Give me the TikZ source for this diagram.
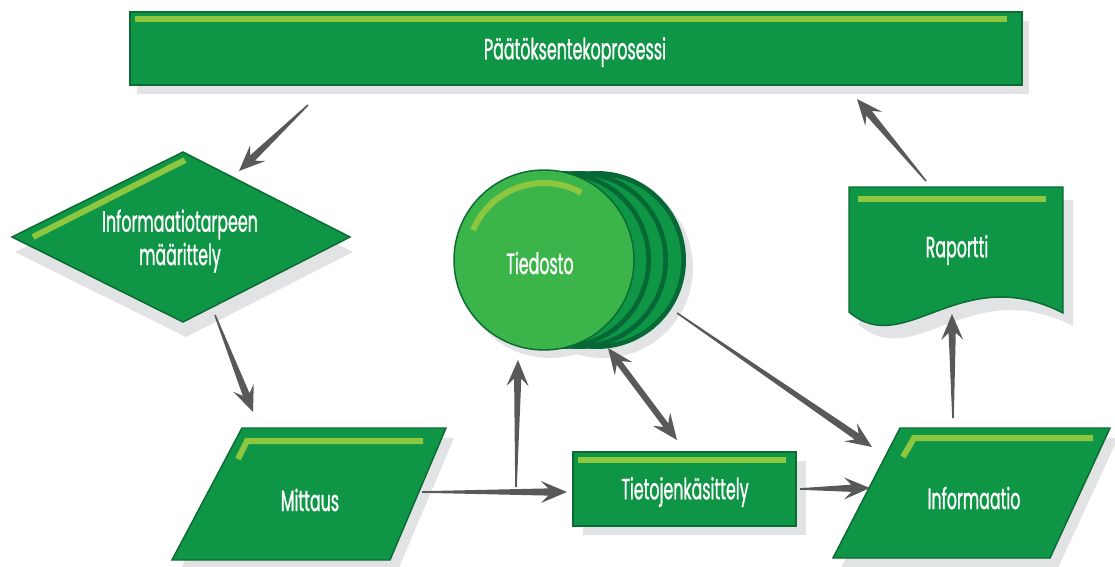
\documentclass[tikz,border=0pt]{standalone}
\usepackage{fontspec}
\newfontfamily\flowfont[FakeStretch=0.54, FakeBold=0.9]{Poppins}
\usetikzlibrary{calc}

\definecolor{boxgreen}{HTML}{0F9546}
\definecolor{edgegreen}{HTML}{0B6B33}
\definecolor{stripegreen}{HTML}{8DC63F}
\definecolor{discgreen}{HTML}{3BB54A}
\definecolor{discedge}{HTML}{056835}
\definecolor{shadowgrey}{HTML}{E2E3E5}
\definecolor{arrowgrey}{HTML}{58595B}

% tapered arrow: thin tail at #1, barbed head at #2
\newcommand\taperarrow[2]{%
  \coordinate (ta-h) at ($(#2)!19.5pt!(#1)$);
  \coordinate (ta-s) at ($(#2)!14pt!(#1)$);
  \fill[arrowgrey] ($(#1)!0.6pt!90:(#2)$) -- ($(ta-s)!2.7pt!90:(#2)$)
    -- ($(ta-h)!8.25pt!90:(#2)$) -- (#2) -- ($(ta-h)!8.25pt!-90:(#2)$)
    -- ($(ta-s)!2.7pt!-90:(#2)$) -- ($(#1)!0.6pt!-90:(#2)$) -- cycle;}

% arrow with heads at both ends
\newcommand\taperdarrow[2]{%
  \coordinate (tb-h1) at ($(#1)!19.5pt!(#2)$);
  \coordinate (tb-s1) at ($(#1)!14pt!(#2)$);
  \coordinate (tb-h2) at ($(#2)!19.5pt!(#1)$);
  \coordinate (tb-s2) at ($(#2)!14pt!(#1)$);
  \fill[arrowgrey] (#1) -- ($(tb-h1)!8.25pt!90:(#2)$) -- ($(tb-s1)!2.3pt!90:(#2)$)
    -- ($(tb-s2)!2.3pt!90:(#2)$) -- ($(tb-h2)!8.25pt!90:(#2)$) -- (#2)
    -- ($(tb-h2)!8.25pt!-90:(#2)$) -- ($(tb-s2)!2.3pt!-90:(#2)$)
    -- ($(tb-s1)!2.3pt!-90:(#2)$) -- ($(tb-h1)!8.25pt!-90:(#2)$) -- cycle;}

\begin{document}
\begin{tikzpicture}[x=0.75pt,y=-0.75pt,
  greenshape/.style={fill=boxgreen, draw=edgegreen, line width=1.1pt, line join=miter},
  shade/.style={fill=shadowgrey},
  stripe/.style={draw=stripegreen, line width=4.5pt},
  txt/.style={text=white, font=\flowfont\fontsize{22}{25}\selectfont, inner sep=0pt, align=center}]
\useasboundingbox (0,0) rectangle (1115,567);

% ---- decision process bar
\fill[shade] (137,21) rectangle (1029,94);
\draw[greenshape] (130,12) rectangle (1022,85);
\draw[stripe] (135,19) -- (1007,19);
\node[txt] (proc) at (575,52) {Päätöksentekoprosessi};

% ---- information need (diamond)
\fill[shade, shift={(3,15)}] (12,237) -- (183,152) -- (350,237) -- (183,322) -- cycle;
\draw[greenshape] (12,237) -- (183,152) -- (350,237) -- (183,322) -- cycle;
\draw[stripe] (33,237) -- (185,160);
\node[txt] (need) at (180,241) {Informaatiotarpeen\\määrittely};

% ---- file (stack of discs)
\fill[shade] (603,268) circle[radius=67.5pt];
\fill[shade] (550,268) circle[radius=67.5pt];
\foreach \cx in {597,579,562}{
  \filldraw[fill=boxgreen, draw=discedge, line width=3.5pt] (\cx,260) circle[radius=65pt];
}
\draw[fill=discgreen, draw=edgegreen, line width=1.1pt] (544,260) circle[radius=67.5pt];
\draw[stripe] (473,230) arc[start angle=157, end angle=61, radius=57.75pt];
\node[txt] (file) at (540,263) {Tiedosto};

% ---- report (document shape)
\fill[shade, shift={(10,13)}] (849,187) -- (1063,187) -- (1063,313)
  .. controls (960,260) and (905,360) .. (849,312) -- cycle;
\draw[greenshape] (849,187) -- (1063,187) -- (1063,313)
  .. controls (960,260) and (905,360) .. (849,312) -- cycle;
\draw[stripe] (858,199) -- (1046,199);
\node[txt] (report) at (957,250) {Raportti};

% ---- measurement (parallelogram)
\fill[shade, shift={(8,10)}] (242,428) -- (446,428) -- (390,560) -- (172,560) -- cycle;
\draw[greenshape] (242,428) -- (446,428) -- (390,560) -- (172,560) -- cycle;
\draw[stripe, line join=miter] (238,459) -- (247,441) -- (423,441);
\node[txt] (meas) at (310,500) {Mittaus};

% ---- data processing (rectangle)
\fill[shade] (583,461) rectangle (806,535);
\draw[greenshape] (573,452) rectangle (796,526);
\draw[stripe] (578,460) -- (786,460);
\node[txt] (proc2) at (685,492) {Tietojenkäsittely};

% ---- information (parallelogram)
\fill[shade, shift={(8,10)}] (900,428) -- (1110,428) -- (1050,558) -- (833,558) -- cycle;
\draw[greenshape] (900,428) -- (1110,428) -- (1050,558) -- (833,558) -- cycle;
\draw[stripe, line join=miter] (903,457) -- (914,438) -- (1093,438);
\node[txt] (info) at (974,498) {Informaatio};

% ---- connector end points
\coordinate (proc-sw) at (308,105);
\coordinate (need-ne) at (239,171);
\coordinate (need-se) at (215,315);
\coordinate (meas-n) at (253,412);
\coordinate (meas-e) at (422,492);
\coordinate (proc2-w) at (567,492);
\coordinate (fork) at (516,487);
\coordinate (file-s) at (518,360);
\coordinate (file-se) at (608,348);
\coordinate (proc2-n) at (677,440);
\coordinate (file-e) at (677,313);
\coordinate (info-nw) at (872,447);
\coordinate (proc2-e) at (800,489);
\coordinate (info-w) at (870,488);
\coordinate (info-n) at (953,418);
\coordinate (report-s) at (952,314);
\coordinate (report-n) at (926,181);
\coordinate (proc-se) at (857,99);

% ---- connectors
\taperarrow{proc-sw}{need-ne}
\taperarrow{need-se}{meas-n}
\taperarrow{meas-e}{proc2-w}
\taperarrow{fork}{file-s}
\taperdarrow{file-se}{proc2-n}
\taperarrow{file-e}{info-nw}
\taperarrow{proc2-e}{info-w}
\taperarrow{info-n}{report-s}
\taperarrow{report-n}{proc-se}
\end{tikzpicture}
\end{document}
